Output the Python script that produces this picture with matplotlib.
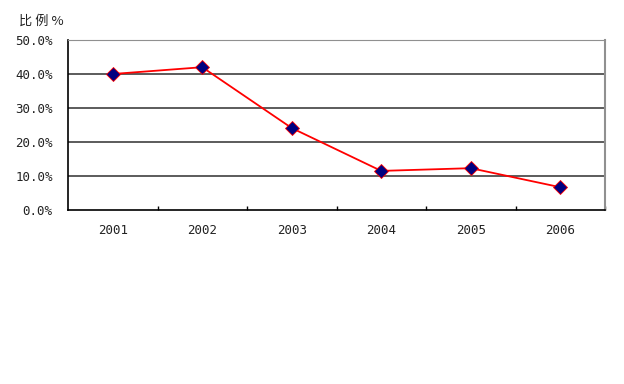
import matplotlib.pyplot as plt
from matplotlib.ticker import FuncFormatter, FixedLocator

plt.rcParams['font.family'] = ['DejaVu Sans Mono', 'Noto Sans CJK SC']

# data
years = ['2001', '2002', '2003', '2004', '2005', '2006']
share = [40.0, 42.0, 24.1, 11.5, 12.3, 6.7]

fig = plt.figure(figsize=(6.24, 3.84), dpi=100)
ax = fig.add_axes([68 / 624, 1 - 210 / 384, 537 / 624, 170 / 384])

x = list(range(len(years)))
ax.plot(x, share, color='red', lw=1.3, marker='D', markersize=7,
        markerfacecolor='#000080', markeredgecolor='red', markeredgewidth=0.6, zorder=3)

ax.set_xlim(-0.5, len(years) - 0.5)
ax.set_ylim(0, 50)
ax.set_yticks([0, 10, 20, 30, 40, 50])
ax.yaxis.set_major_formatter(FuncFormatter(lambda v, p: f'{v:.1f}%'))
ax.tick_params(axis='y', length=0, pad=11, labelsize=9, labelcolor='#222222')

ax.xaxis.set_major_locator(FixedLocator(x))
ax.set_xticklabels(years)
ax.tick_params(axis='x', which='major', length=0, pad=10, labelsize=9, labelcolor='#222222')
ax.xaxis.set_minor_locator(FixedLocator([i + 0.5 for i in x]))
ax.tick_params(axis='x', which='minor', direction='in', length=3, width=1, color='black')

for v in [10, 20, 30, 40]:
    ax.axhline(v, color='#404040', lw=1.2, zorder=1)

ax.spines['left'].set_color('black')
ax.spines['left'].set_linewidth(1.2)
ax.spines['bottom'].set_color('black')
ax.spines['bottom'].set_linewidth(1.2)
ax.spines['top'].set_color('#909090')
ax.spines['right'].set_color('#909090')
ax.spines['right'].set_linewidth(1.5)

fig.text(19 / 624, 1 - 21 / 384, '比 例 %', fontsize=9.5, va='center', ha='left',
         family=['Noto Sans CJK SC', 'DejaVu Sans'], color='#222222')

plt.savefig('out.png', dpi=100)
